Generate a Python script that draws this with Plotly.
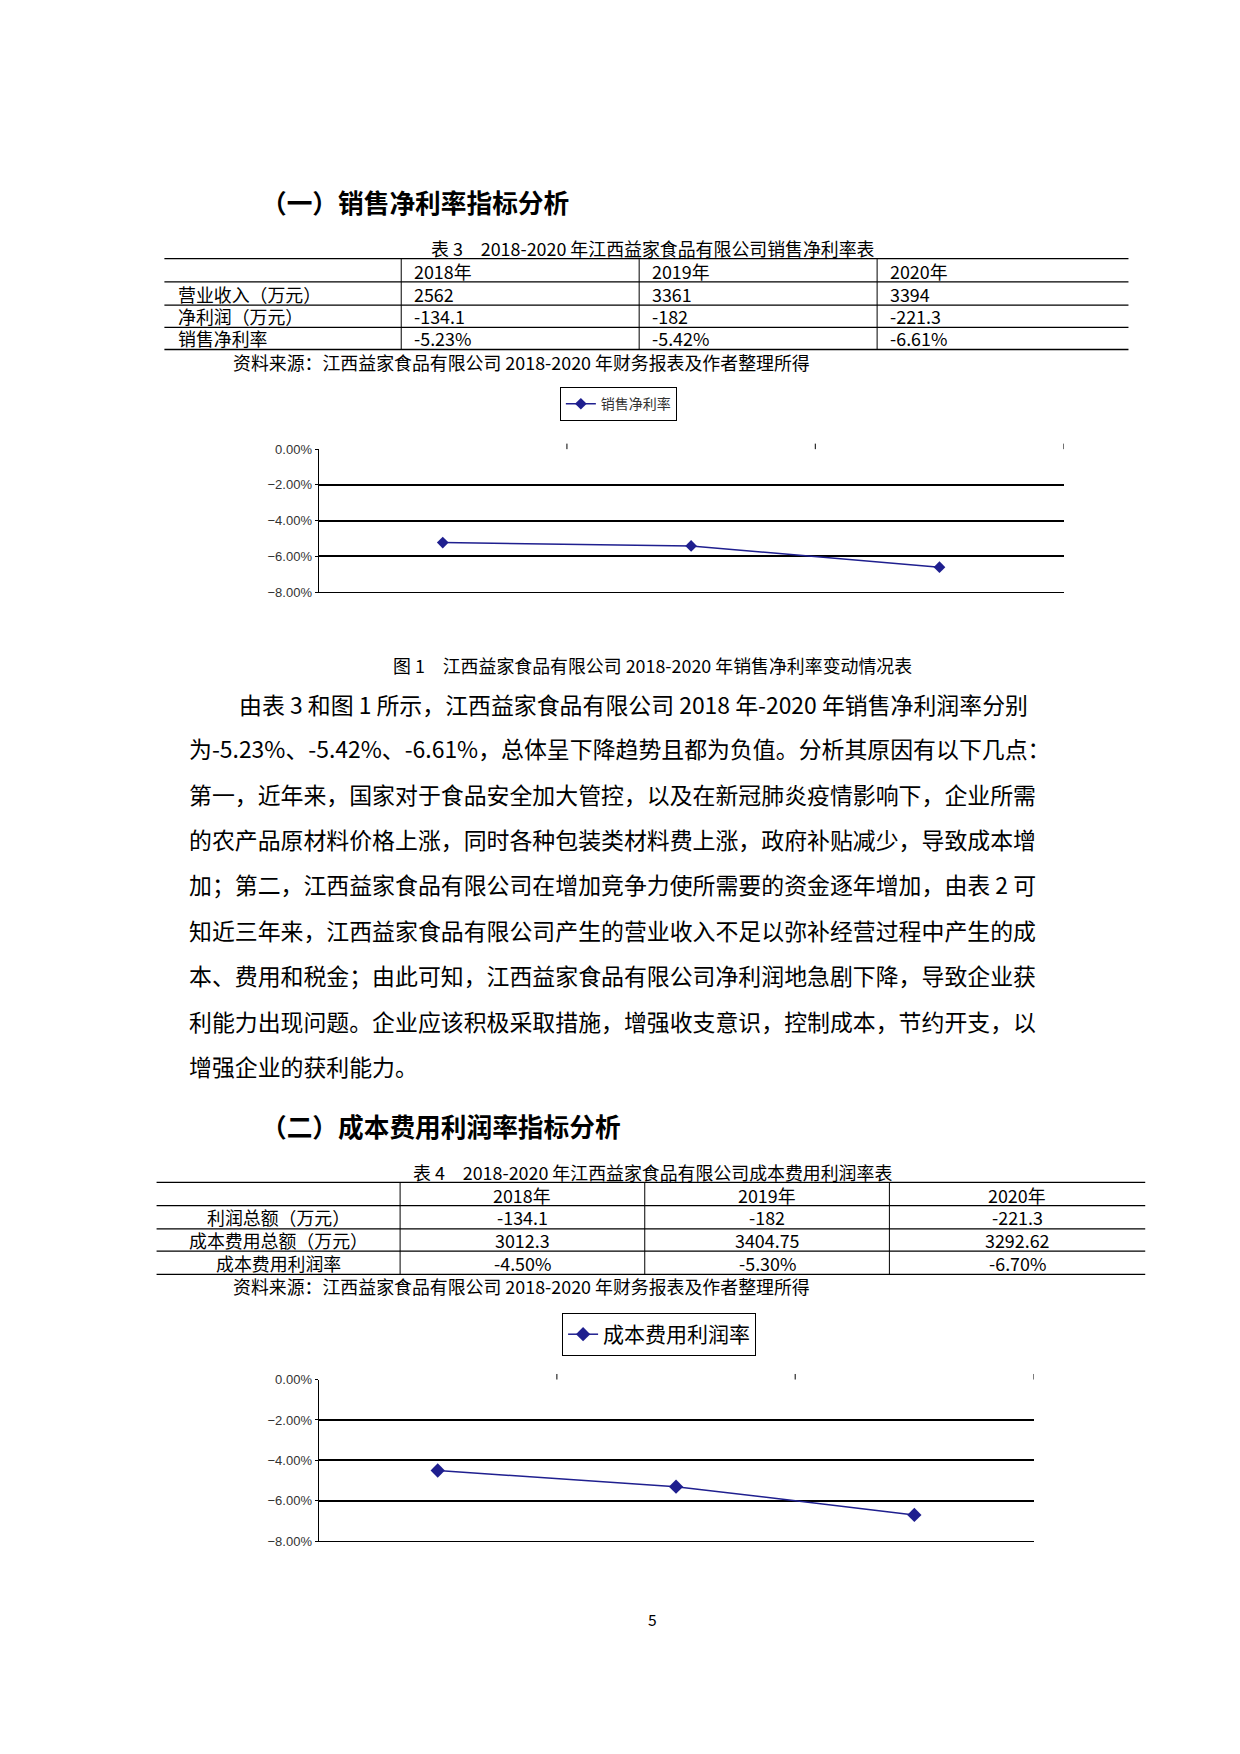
import plotly.graph_objects as go

W, H = 1240, 1754
S = 1240 / 1110  # layout measured on a 1110-wide view
years = ["2018年", "2019年", "2020年"]
revenue = ["2562", "3361", "3394"]
net_profit = ["-134.1", "-182", "-221.3"]
sales_rate = [-5.23, -5.42, -6.61]
profit_total = ["-134.1", "-182", "-221.3"]
cost_total = ["3012.3", "3404.75", "3292.62"]
cost_rate = [-4.50, -5.30, -6.70]
yticks = [0, -2, -4, -6, -8]

FONT = "Noto Sans CJK SC"
NAVY = "#1f1f8f"

def px(x): return x * S / W
def py(y): return 1 - y * S / H
def fs(s): return round(s * S, 1)

fig = go.Figure()
ann, shp = [], []

def text(x, y, s, size=16, anchor="left", bold=False, color="black"):
    ann.append(dict(xref="paper", yref="paper", x=px(x), y=py(y), text=("<b>%s</b>" % s) if bold else s,
                    showarrow=False, xanchor=anchor, yanchor="middle",
                    font=dict(family=FONT, size=fs(size), color=color)))

def hline(x0, x1, y, w=1.3):
    shp.append(dict(type="line", xref="paper", yref="paper", x0=px(x0), x1=px(x1), y0=py(y), y1=py(y),
                    line=dict(color="black", width=w)))

def vline(x, y0, y1, w=1):
    shp.append(dict(type="line", xref="paper", yref="paper", x0=px(x), x1=px(x), y0=py(y0), y1=py(y1),
                    line=dict(color="black", width=w)))

# Section 1
text(225, 168, "（一）销售净利率指标分析", 23, bold=True)
text(577, 210, "表 3　2018-2020 年江西益家食品有限公司销售净利率表", 16, "center")
rows = [220, 241, 262, 282, 302]
for r in rows:
    hline(140, 1003, r)
cols3 = [352, 565, 778]
for c in cols3:
    vline(c, 220, 302)
for i, yv in enumerate(years):
    text(cols3[i] + 10, 231, yv)
labels3 = ["营业收入（万元）", "净利润（万元）", "销售净利率"]
vals3 = [revenue, net_profit, ["%.2f%%" % v for v in sales_rate]]
for r, (lab, vals) in enumerate(zip(labels3, vals3)):
    yc = (rows[r + 1] + rows[r + 2]) / 2
    text(150, yc, lab)
    for i, v in enumerate(vals):
        text(cols3[i] + 10, yc, v)
text(200, 313, "资料来源：江西益家食品有限公司 2018-2020 年财务报表及作者整理所得", 16)

fig.add_trace(go.Scatter(x=[0, 1, 2], y=[v / 100 for v in sales_rate], mode="lines+markers",
                         name="销售净利率", line=dict(color=NAVY, width=1.5),
                         marker=dict(symbol="diamond", size=9, color=NAVY),
                         xaxis="x", yaxis="y", legend="legend"))
text(577, 587, "图 1　江西益家食品有限公司 2018-2020 年销售净利率变动情况表", 16, "center")

para = [
    "由表 3 和图 1 所示，江西益家食品有限公司 2018 年-2020 年销售净利润率分别",
    "为-5.23%、-5.42%、-6.61%，总体呈下降趋势且都为负值。分析其原因有以下几点：",
    "第一，近年来，国家对于食品安全加大管控，以及在新冠肺炎疫情影响下，企业所需",
    "的农产品原材料价格上涨，同时各种包装类材料费上涨，政府补贴减少，导致成本增",
    "加；第二，江西益家食品有限公司在增加竞争力使所需要的资金逐年增加，由表 2 可",
    "知近三年来，江西益家食品有限公司产生的营业收入不足以弥补经营过程中产生的成",
    "本、费用和税金；由此可知，江西益家食品有限公司净利润地急剧下降，导致企业获",
    "利能力出现问题。企业应该积极采取措施，增强收支意识，控制成本，节约开支，以",
    "增强企业的获利能力。",
]
ys = [622, 662, 703, 744, 785, 826, 867, 908, 949]
for i, (line, yy) in enumerate(zip(para, ys)):
    text(205 if i == 0 else 160, yy, line, 20.5)

# Section 2
text(225, 1003, "（二）成本费用利润率指标分析", 23, bold=True)
text(577, 1045, "表 4　2018-2020 年江西益家食品有限公司成本费用利润率表", 16, "center")
rows4 = [1054, 1075, 1096, 1116, 1137]
for r in rows4:
    hline(133, 1018, r)
cols4 = [351, 570, 789, 1018]
for c in cols4[:3]:
    vline(c, 1054, 1137)
for i, yv in enumerate(years):
    text((cols4[i] + cols4[i + 1]) / 2, 1065, yv, 16, "center")
labels4 = ["利润总额（万元）", "成本费用总额（万元）", "成本费用利润率"]
vals4 = [profit_total, cost_total, ["%.2f%%" % v for v in cost_rate]]
for r, (lab, vals) in enumerate(zip(labels4, vals4)):
    yc = (rows4[r + 1] + rows4[r + 2]) / 2
    text(242, yc, lab, 16, "center")
    for i, v in enumerate(vals):
        text((cols4[i] + cols4[i + 1]) / 2, yc, v, 16, "center")
text(200, 1148, "资料来源：江西益家食品有限公司 2018-2020 年财务报表及作者整理所得", 16)

fig.add_trace(go.Scatter(x=[0, 1, 2], y=[v / 100 for v in cost_rate], mode="lines+markers",
                         name="成本费用利润率", line=dict(color=NAVY, width=1.5),
                         marker=dict(symbol="diamond", size=11, color=NAVY),
                         xaxis="x2", yaxis="y2", legend="legend2"))

text(577, 1448, "5", 14, "center")

for xa, top in [("x", 392), ("x2", 1232)]:
    for b in [0.5, 1.5, 2.5]:
        shp.append(dict(type="line", xref=xa, yref="paper", x0=b, x1=b, y0=py(top), y1=py(top - 5),
                        line=dict(color="black", width=1)))

def yax(y0, y1):
    return dict(domain=[py(y1), py(y0)], range=[-0.08, 0], tickvals=[v / 100 for v in yticks],
                tickformat=".2%", showgrid=True, gridcolor="black", gridwidth=1.5,
                showline=True, linecolor="black", linewidth=1, zeroline=False,
                ticks="outside", ticklen=3, tickcolor="black",
                tickfont=dict(family="Arial", size=13, color="#333"))

def xax(x0, x1):
    return dict(domain=[px(x0), px(x1)], range=[-0.5, 2.5], showticklabels=False, showgrid=False,
                showline=True, linecolor="black", linewidth=1, zeroline=False, ticks="")

fig.update_layout(
    width=W, height=H, margin=dict(l=0, r=0, t=0, b=0),
    paper_bgcolor="white", plot_bgcolor="white",
    xaxis=xax(278, 945), yaxis=yax(392, 521),
    xaxis2=dict(**xax(278, 918), anchor="y2"), yaxis2=dict(**yax(1232, 1378), anchor="x2"),
    annotations=ann, shapes=shp, showlegend=True,
    legend=dict(x=px(494), y=py(336), xanchor="left", yanchor="top", bordercolor="black", borderwidth=1,
                bgcolor="white", font=dict(family=FONT, size=14, color="#333")),
    legend2=dict(x=px(496), y=py(1172), xanchor="left", yanchor="top", bordercolor="black", borderwidth=1,
                 bgcolor="white", font=dict(family=FONT, size=21, color="black")),
)
fig.write_html("out.html")
